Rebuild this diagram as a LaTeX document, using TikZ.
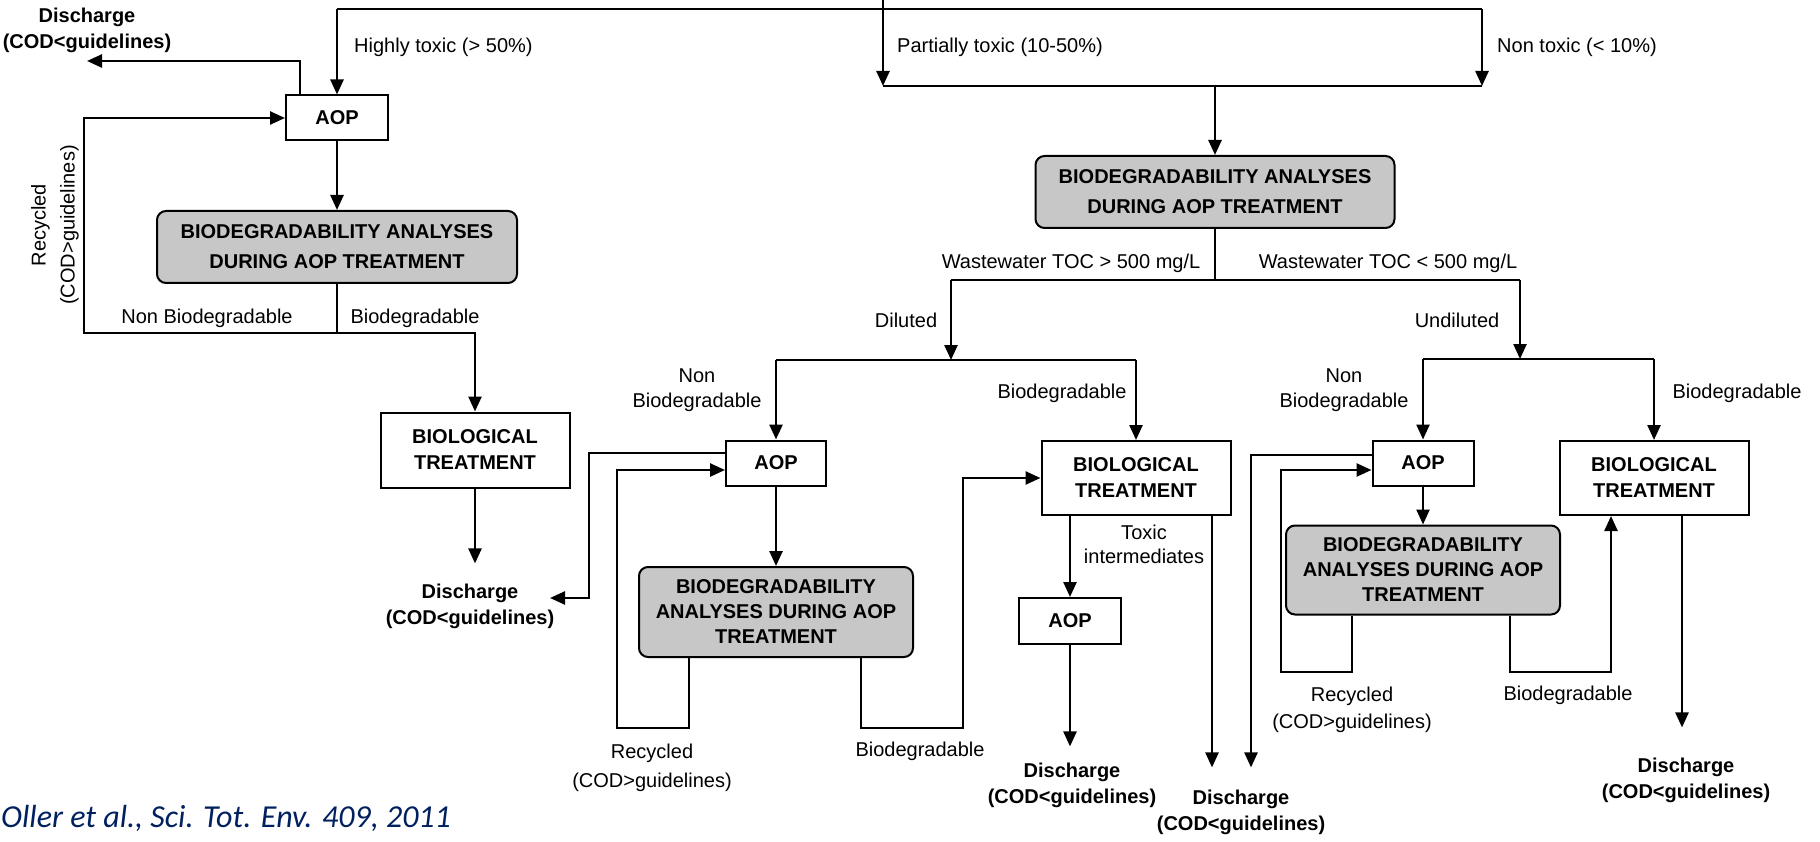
\documentclass[tikz,border=0pt]{standalone}
\usepackage{fontspec}
\setmainfont{Liberation Sans}
\newfontfamily\citefont{Carlito}
\usepackage{tikz}
\usetikzlibrary{shapes.geometric, arrows, arrows.meta}
\definecolor{citeblue}{RGB}{0,32,96}
\tikzstyle{process} = [rectangle, draw=black, line width=2pt, fill=white, text centered, align=center, font=\bfseries\fontsize{20}{26}\selectfont]
\tikzstyle{analysis} = [process, rounded corners=9pt, fill=black!22, minimum width=274pt, minimum height=90pt, font=\bfseries\fontsize{20}{25}\selectfont]
\tikzstyle{outlet} = [align=center, font=\bfseries\fontsize{20}{26}\selectfont, inner xsep=0pt, inner ysep=20pt]
\tikzstyle{lbl} = [align=center, inner sep=0pt, font=\fontsize{20}{25}\selectfont]
\tikzstyle{pipe} = [line width=2.5pt]
\tikzstyle{arrow} = [line width=2.5pt,->,>={Triangle[length=15pt,width=13pt]}]

\begin{document}
\begin{tikzpicture}[x=1pt, y=-1pt]
	\useasboundingbox (0,0) rectangle (1820,842);
	% toxicity split
	\coordinate (src) at (883,0);
	\coordinate (tl) at (337,9);
	\coordinate (tr) at (1482,9);
	\coordinate (pt) at (883,86);
	\coordinate (nt) at (1482,86);
	\node (hi) [lbl, anchor=west] at (354,47) {Highly toxic (> 50\%)};
	\node (pa) [lbl, anchor=west] at (897,47) {Partially toxic (10-50\%)};
	\node (no) [lbl, anchor=west] at (1497,47) {Non toxic (< 10\%)};

	% highly toxic branch
	\node (aop1) [process, minimum width=102pt, minimum height=45pt] at (337,118) {AOP};
	\node (bda1) [analysis, minimum width=360pt, minimum height=72pt, font=\bfseries\fontsize{20}{30}\selectfont] at (337,247) {BIODEGRADABILITY ANALYSES\\DURING AOP TREATMENT};
	\node (bio1) [process, minimum width=189pt, minimum height=75pt] at (475,450) {BIOLOGICAL\\TREATMENT};
	\node (dis0) [outlet] at (87,30) {Discharge\\(COD<guidelines)};
	\node (dis1) [outlet] at (470,606) {Discharge\\(COD<guidelines)};
	\node (nb1) [lbl] at (207,318) {Non Biodegradable};
	\node (bd1) [lbl] at (415,318) {Biodegradable};
	\node (rc1) [lbl, rotate=90, font=\fontsize{20}{29}\selectfont] at (55,225) {Recycled\\(COD>guidelines)};
	\coordinate (dis0tip) at (87,61);
	\coordinate (j1) at (337,333);
	\coordinate (rc1a) at (84,118);

	% partially toxic branch
	\node (bda2) [analysis, minimum width=359pt, minimum height=72pt, font=\bfseries\fontsize{20}{30}\selectfont] at (1215,192) {BIODEGRADABILITY ANALYSES\\DURING AOP TREATMENT};
	\node (hw) [lbl] at (1071,263) {Wastewater TOC > 500 mg/L};
	\node (lw) [lbl] at (1388,263) {Wastewater TOC < 500 mg/L};
	\node (dil) [lbl] at (906,320) {Diluted};
	\node (udl) [lbl] at (1457,320) {Undiluted};
	\coordinate (j2) at (1215,280);
	\coordinate (dl) at (951,280);
	\coordinate (ud) at (1520,280);
	\coordinate (dlh) at (951,360);
	\coordinate (dla) at (776,360);
	\coordinate (dlb) at (1136,360);
	\coordinate (udh) at (1520,359);
	\coordinate (uda) at (1423,359);
	\coordinate (udb) at (1654,359);

	% diluted
	\node (aop2) [process, minimum width=100pt, minimum height=45pt] at (776,463) {AOP};
	\node (bda3) [analysis] at (776,612) {BIODEGRADABILITY\\ANALYSES DURING AOP\\TREATMENT};
	\node (bio2) [process, minimum width=189pt, minimum height=74pt] at (1136,478) {BIOLOGICAL\\TREATMENT};
	\node (aop3) [process, minimum width=102pt, minimum height=46pt] at (1070,621) {AOP};
	\node (dis2) [outlet, inner ysep=16pt] at (1072,785) {Discharge\\(COD<guidelines)};
	\node (dis3) [outlet, inner ysep=22pt] at (1241,812) {Discharge\\(COD<guidelines)};
	\node (nb2) [lbl] at (697,390) {Non\\Biodegradable};
	\node (bd2) [lbl] at (1062,393) {Biodegradable};
	\node (tox) [lbl, font=\fontsize{20}{24}\selectfont] at (1144,544) {Toxic\\intermediates};
	\node (rc2) [lbl, font=\fontsize{20}{29}\selectfont] at (652,768) {Recycled\\(COD>guidelines)};
	\node (bd3) [lbl] at (920,751) {Biodegradable};
	\coordinate (dis1tip) at (550,598);
	\coordinate (ao2k) at (589,598);
	\coordinate (rc2a) at (617,728);
	\coordinate (bd3a) at (963,728);

	% undiluted
	\node (aop4) [process, minimum width=101pt, minimum height=45pt] at (1423,463) {AOP};
	\node (bda4) [analysis, minimum height=89pt] at (1423,570) {BIODEGRADABILITY\\ANALYSES DURING AOP\\TREATMENT};
	\node (bio3) [process, minimum width=189pt, minimum height=74pt] at (1654,478) {BIOLOGICAL\\TREATMENT};
	\node (dis4) [outlet, inner ysep=30pt] at (1686,780) {Discharge\\(COD<guidelines)};
	\node (nb3) [lbl] at (1344,390) {Non\\Biodegradable};
	\node (bd4) [lbl] at (1737,393) {Biodegradable};
	\node (rc3) [lbl, font=\fontsize{20}{27}\selectfont] at (1352,710) {Recycled\\(COD>guidelines)};
	\node (bd5) [lbl] at (1568,695) {Biodegradable};
	\coordinate (rc4a) at (1281,672);
	\coordinate (bd4a) at (1611,672);

	\node (cite) [anchor=west, inner sep=0pt, font=\citefont\itshape\fontsize{32}{36}\selectfont, text=citeblue] at (1,818) {Oller et al., Sci. Tot. Env. 409, 2011};

	% connectors
	\draw [pipe] (tl) -- (tr);
	\draw [arrow] (tl) -- (aop1);
	\draw [arrow] (src) -- (pt);
	\draw [arrow] (tr) -- (nt);
	\draw [pipe] (pt) -- (nt);
	\draw [arrow] (bda2 |- pt) -- (bda2);

	\draw [arrow] ([xshift=-37pt]aop1.north) |- (dis0tip);
	\draw [arrow] (aop1) -- (bda1);
	\draw [pipe] (bda1) -- (j1);
	\draw [arrow] (j1) -| (rc1a) -- (aop1);
	\draw [arrow] (j1) -| (bio1);
	\draw [arrow] (bio1) -- (bio1 |- dis1.north);

	\draw [pipe] (bda2) -- (j2);
	\draw [pipe] (dl) -- (ud);
	\draw [arrow] (dl) -- (dlh);
	\draw [arrow] (ud) -- (udh);
	\draw [pipe] (dla) -- (dlb);
	\draw [pipe] (uda) -- (udb);
	\draw [arrow] (dla) -- (aop2);
	\draw [arrow] (dlb) -- (bio2);
	\draw [arrow] (uda) -- (aop4);
	\draw [arrow] (udb) -- (bio3);

	\draw [arrow] (aop2) -- (bda3);
	\draw [arrow] ([yshift=10pt]aop2.west) -| (ao2k) -- (dis1tip);
	\draw [arrow] ([xshift=-87pt]bda3.south) |- (rc2a) |- ([yshift=-7pt]aop2.west);
	\draw [arrow] ([xshift=85pt]bda3.south) |- (bd3a) |- (bio2.west);
	\draw [arrow] ([xshift=-66pt]bio2.south) -- (aop3);
	\draw [arrow] (aop3) -- (aop3 |- dis2.north);
	\draw [arrow] ([xshift=76pt]bio2.south) -- ([xshift=76pt]bio2.south |- dis3.north);
	\draw [arrow] ([yshift=8pt]aop4.west) -| ([xshift=10pt]dis3.north);

	\draw [arrow] (aop4) -- (bda4);
	\draw [arrow] ([xshift=-71pt]bda4.south) |- (rc4a) |- ([yshift=-7pt]aop4.west);
	\draw [arrow] ([xshift=87pt]bda4.south) |- (bd4a) -- (bd4a |- bio3.south);
	\draw [arrow] ([xshift=28pt]bio3.south) -- ([xshift=28pt]bio3.south |- dis4.north);
\end{tikzpicture}
\end{document}
